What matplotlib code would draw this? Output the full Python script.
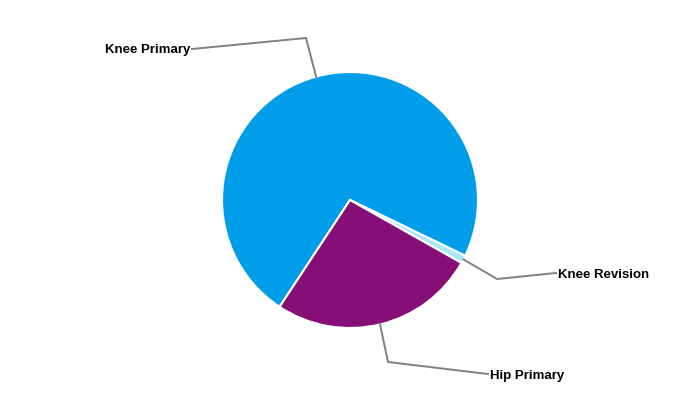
import numpy as np
import matplotlib.pyplot as plt

labels = ["Knee Primary", "Knee Revision", "Hip Primary"]
values = [72.9, 1.0, 26.1]
colors = ["#009EEA", "#A8E6FB", "#850F77"]

# label layout in pixels (x, y from top): elbow point, text anchor
elbows = [(306, 38), (497, 279), (388, 362)]
text_pos = [(190, 49), (558, 273), (490, 374)]
text_ha = ["right", "left", "left"]

W, H = 700, 400
cx, cy, R = 350, 200, 128

fig = plt.figure(figsize=(7, 4), dpi=100)
ax = fig.add_axes([0, 0, 1, 1])

wedges, _ = ax.pie(values, colors=colors, startangle=236.6, counterclock=False,
                   center=(cx, H - cy), radius=R,
                   wedgeprops=dict(edgecolor="white", linewidth=1.5))
ax.set_xlim(0, W)
ax.set_ylim(0, H)
ax.set_aspect("equal")
ax.axis("off")

for w, el, tp, ha, lab in zip(wedges, elbows, text_pos, text_ha, labels):
    mid = np.deg2rad((w.theta1 + w.theta2) / 2)
    x0 = cx + R * np.cos(mid)
    y0 = (H - cy) + R * np.sin(mid)
    xe, ye = el[0], H - el[1]
    xt = tp[0] + (2 if ha == "right" else -2)
    yt = H - tp[1]
    ax.plot([x0, xe, xt], [y0, ye, yt], color="#808080", lw=1.4,
            solid_joinstyle="miter")
    ax.text(tp[0], yt - 1.5, lab, ha=ha, va="center", fontsize=9.5,
            fontweight="bold", family="Liberation Sans", color="black")

fig.savefig("out.png", dpi=100)
